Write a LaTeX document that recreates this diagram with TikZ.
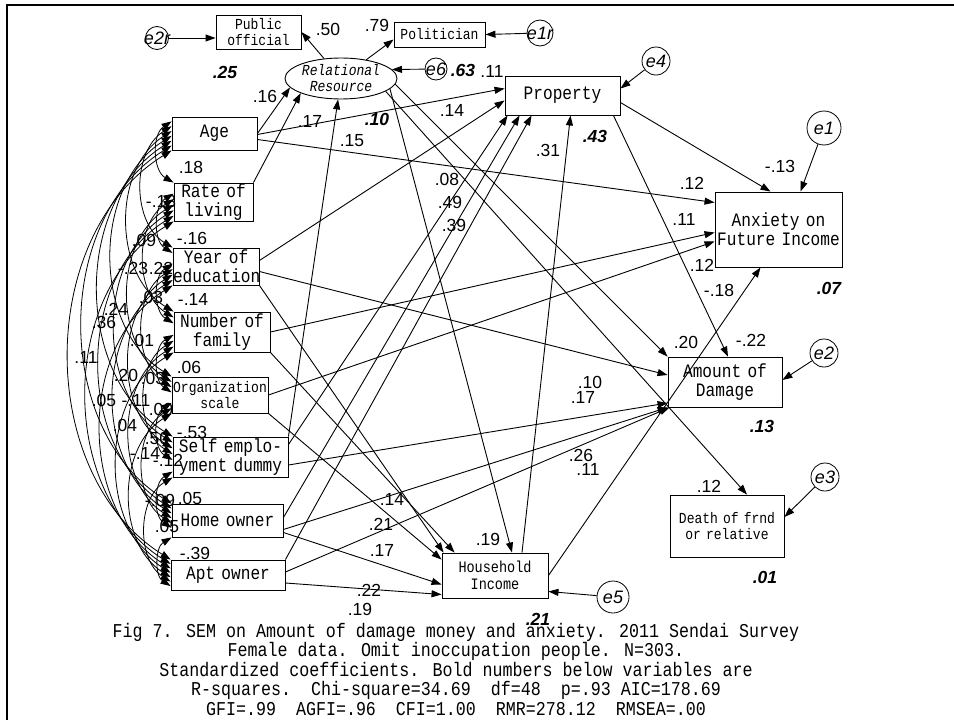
\documentclass[tikz,border=0pt]{standalone}
\usepackage{fontspec}
\setmainfont{Liberation Sans}
\newfontfamily\amosfont[FakeStretch=0.85]{Liberation Mono}
\usetikzlibrary{arrows.meta,calc,positioning,shapes.geometric}

\tikzset{
  obs/.style={draw, rectangle, inner sep=0pt, align=center, line width=0.9pt,
    font=\amosfont\fontsize{19}{19}\selectfont},
  smalltext/.style={font=\amosfont\fontsize{15.3}{16}\selectfont},
  err/.style={draw, circle, inner sep=0pt, line width=0.8pt,
    font=\itshape\fontsize{18}{18}\selectfont},
  coef/.style={inner sep=0pt, font=\fontsize{17.5}{17.5}\selectfont},
  rsq/.style={inner sep=0pt, font=\bfseries\itshape\fontsize{17.5}{17.5}\selectfont},
  reg/.style={-{Triangle[length=10pt,width=7pt]}, line width=0.9pt},
  cov/.style={{Triangle[length=10pt,width=7pt]}-{Triangle[length=10pt,width=7pt]}, line width=0.8pt},
}

\begin{document}
\begin{tikzpicture}[x=1pt,y=-1pt]
    \useasboundingbox (0,0) rectangle (954,720);
    \draw[line width=2pt] (7,720) -- (7,5) -- (954,5);

    % exogenous variables
    \node[obs, text width=85pt, minimum height=33pt] (age) at (214.5,133.5) {Age};
    \node[obs, text width=79pt, minimum height=38pt] (rate) at (213.5,202) {Rate of\\living};
    \node[obs, text width=86pt, minimum height=37pt] (edu) at (216,266.5) {Year of\\education};
    \node[obs, text width=96pt, minimum height=40pt] (fam) at (222,332) {Number of\\family};
    \node[obs, smalltext, text width=96pt, minimum height=36pt] (org) at (220,395) {Organization\\scale};
    \node[obs, text width=115pt, minimum height=40pt] (self) at (230.5,457) {Self emplo-\\yment dummy};
    \node[obs, text width=111pt, minimum height=33pt] (home) at (227.5,520.5) {Home owner};
    \node[obs, text width=114pt, minimum height=30pt] (apt) at (228,575) {Apt owner};

    % endogenous variables
    \node[obs, smalltext, text width=85pt, minimum height=34pt] (pub) at (258.5,32) {Public\\official};
    \node[obs, smalltext, text width=91pt, minimum height=25pt] (pol) at (439.5,34.5) {Politician};
    \node[draw, ellipse, inner sep=0pt, line width=0.9pt, minimum width=112pt, minimum height=41pt,
      align=center, font=\amosfont\itshape\fontsize{15.3}{16}\selectfont] (rr) at (341,78.5) {Relational\\Resource};
    \node[obs, text width=115pt, minimum height=39pt] (prop) at (562.5,95.5) {Property};
    \node[obs, text width=127pt, minimum height=75pt] (anx) at (778.5,229.5) {Anxiety on\\Future Income};
    \node[obs, text width=114pt, minimum height=50pt] (amt) at (725,382) {Amount of\\Damage};
    \node[obs, smalltext, text width=114pt, minimum height=62pt] (death) at (727,526) {Death of frnd\\ or relative};
    \node[obs, font=\amosfont\fontsize{15.9}{17}\selectfont, text width=106pt, minimum height=45pt] (hh) at (495,575.5) {Household\\Income};

    % error terms
    \node[err, minimum size=23pt] (e2r) at (157,38) {\makebox[0pt]{e2r}};
    \node[err, minimum size=26pt] (e1r) at (540,33) {\makebox[0pt]{e1r}};
    \node[err, minimum size=22pt] (e6) at (436,69) {\makebox[0pt]{e6}};
    \node[err, minimum size=28pt] (e4) at (656,61) {\makebox[0pt]{e4}};
    \node[err, minimum size=34pt] (e1) at (824,128) {\makebox[0pt]{e1}};
    \node[err, minimum size=28pt] (e2) at (824,353) {\makebox[0pt]{e2}};
    \node[err, minimum size=28pt] (e3) at (825,477) {\makebox[0pt]{e3}};
    \node[err, minimum size=32pt] (e5) at (613,597) {\makebox[0pt]{e5}};

    % coefficients
    \foreach \x/\y/\t [count=\n] in {328/29/.50, 377/25/.79, 492/71/.11, 265/96/.16, 310/121/.17,
      452/110/.14, 352/141/.15, 447/179/.08, 450/202/.49, 454/225/.39, 548/150/.31, 780/166/-.13,
      692/183/.12, 684/219/.11, 702/265/.12, 719/290/-.18, 686/342/.20, 751/340/-.22, 590/382/.10,
      583/397/.17, 581/455/.26, 588/469/.11, 392/499/.14, 381/524/.21, 382/550/.17, 488/539/.19,
      369/590/.22, 360/609/.19, 709/486/.12,
      191/167/.18, 161/201/-.13, 144/240/.09, 192/238/-.16, 133/268/-.23, 161/268/.22, 193/299/-.14,
      151/297/.03, 116/309/.24, 104/322/.36, 142/340/.01, 86/357/.11, 126/375/.20, 153/378/.03,
      189/367/.06, 104/400/.05, 136/400/-.11, 161/409/.00, 125/425/.04, 157/438/.50, 192/432/-.53,
      145/453/-.14, 168/460/-.12, 160/500/-.09, 190/498/.05, 167/526/.05, 195/553/-.39}
      \node[coef] (c\n) at (\x,\y) {\t};

    % R-squares
    \foreach \x/\y/\t [count=\n] in {225/72/.25, 463/70/.63, 377/119/.10, 595/136/.43,
      829/288/.07, 762/426/.13, 765/577/.01, 538/619/.21}
      \node[rsq] (r\n) at (\x,\y) {\t};

    % covariances
    \foreach \a [count=\i] in {age,rate,edu,fam,org,self,home,apt}{
      \foreach \b [count=\j] in {age,rate,edu,fam,org,self,home,apt}{
        \ifnum\j>\i
          \pgfmathsetmacro\fa{(\j-1)/7}
          \pgfmathsetmacro\fb{(\i-1)/7}
          \draw[cov] ($(\a.north west)!\fa!(\a.south west)$) to[bend right=58]
                     ($(\b.north west)!\fb!(\b.south west)$);
        \fi
      }
    }

    % measurement part
    \draw[reg] (e2r) -- ([yshift=-6pt]pub.west);
    \draw[reg] (e1r) -- (pol.east);
    \draw[reg] (e6) -- (rr.10);
    \draw[reg] (rr) -- (pub.east);
    \draw[reg] (rr) -- ([yshift=-5pt]pol.west);

    % paths into relational resource
    \draw[reg] (age.east) -- (rr.190);
    \draw[reg] (rate.north east) -- (rr.200);
    \draw[reg] (self.north east) -- (rr.262);

    % paths into property
    \draw[reg] ([yshift=-1pt]age.east) -- ([yshift=7pt]prop.west);
    \draw[reg] ([yshift=6pt]edu.east) -- ([yshift=-5pt]prop.west);
    \draw[reg] ([yshift=-8pt]self.north east) -- ([xshift=3pt]prop.south west);
    \draw[reg] ([yshift=3pt]home.east) -- ([xshift=15pt]prop.south west);
    \draw[reg] (apt.north east) -- ([xshift=27pt]prop.south west);
    \draw[reg] ([xshift=27pt]hh.north) -- ([xshift=8pt]prop.south);
    \draw[reg] (e4) -- ([yshift=7pt]prop.east);

    % paths into anxiety
    \draw[reg] ([yshift=-6pt]age.east) -- ([yshift=27pt]anx.west);
    \draw[reg] (fam.east) -- ([yshift=-3pt]anx.west);
    \draw[reg] (org.east) -- ([yshift=-12pt]anx.west);
    \draw[reg] ([yshift=-7pt]prop.east) -- ([xshift=-8pt]anx.north);
    \draw[reg] (hh.east) -- ([xshift=-18pt]anx.south);
    \draw[reg] (e1) -- ([xshift=22pt]anx.north);

    % paths into amount of damage
    \draw[reg] (rr.-6) -- (amt.north west);
    \draw[reg] ([xshift=-7pt]prop.south east) -- ([xshift=3pt]amt.north);
    \draw[reg] ([yshift=-5pt]edu.east) -- ([yshift=7pt]amt.west);
    \draw[reg] ([yshift=-8pt]self.east) -- ([yshift=-21pt]amt.west);
    \draw[reg] ([yshift=-9pt]home.east) -- (amt.south west);
    \draw[reg] ([yshift=3pt]apt.east) -- ([xshift=2pt]amt.south west);
    \draw[reg] (e2) -- ([yshift=2pt]amt.east);

    % paths into household income
    \draw[reg] (rr.-12) -- ([xshift=17pt]hh.north);
    \draw[reg] (edu.south east) -- ([xshift=2pt]hh.north west);
    \draw[reg] (fam.south east) -- ([xshift=13pt]hh.north west);
    \draw[reg] (org.south east) -- ([yshift=-7pt]hh.north west);
    \draw[reg] ([yshift=-12pt]home.east) -- ([yshift=-9pt]hh.west);
    \draw[reg] ([yshift=-8pt]apt.east) -- ([yshift=-19pt]hh.west);
    \draw[reg] (e5) -- ([yshift=-16pt]hh.east);

    % death of friend or relative
    \draw[reg] (rr.-16) -- ([xshift=20pt]death.north);
    \draw[reg] (e3) -- ([yshift=9pt]death.east);

    % caption
    \node[align=center, inner sep=0pt, font=\amosfont\fontsize{19.6}{19.5}\selectfont] (cap) at (456,669)
      {Fig 7. SEM on Amount of damage money and anxiety. 2011 Sendai Survey\\
       Female data. Omit inoccupation people. N=303.\\
       Standardized coefficients. Bold numbers below variables are\\
       R-squares.~~Chi-square=34.69~~df=48~~p=.93 AIC=178.69\\
       GFI=.99~~AGFI=.96~~CFI=1.00~~RMR=278.12~~RMSEA=.00};
\end{tikzpicture}
\end{document}
